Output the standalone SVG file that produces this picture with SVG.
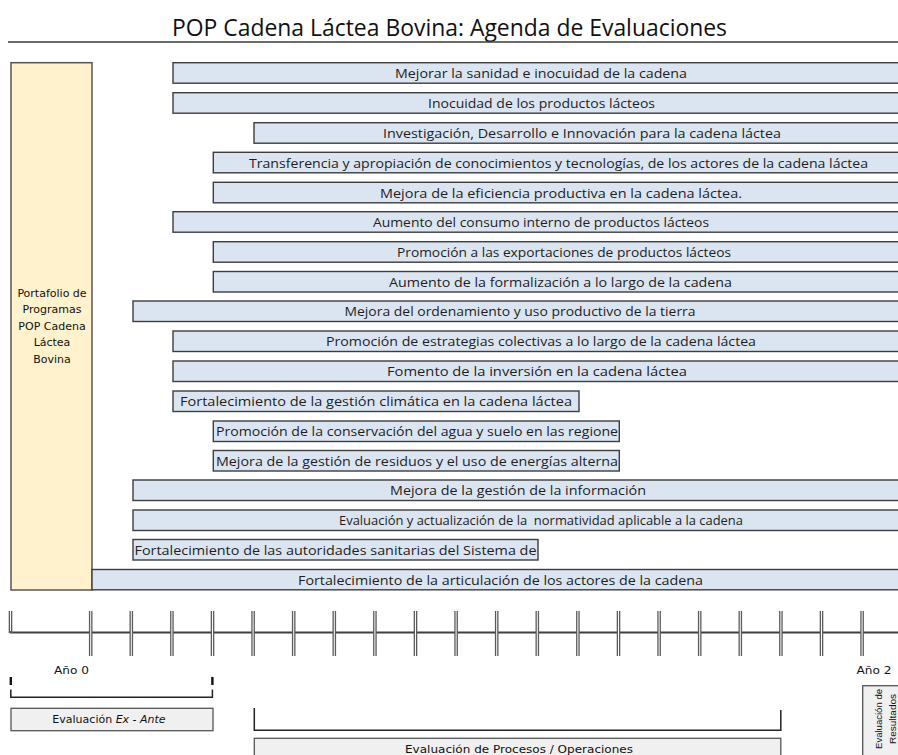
<svg xmlns="http://www.w3.org/2000/svg" width="898" height="755" viewBox="0 0 898 755">
<defs>
<style>
.bar{fill:#dbe5f1;stroke:#3d3d3d;stroke-width:1.4}
.bt{font-family:"Open Sans","Noto Sans","Liberation Sans",sans-serif;font-size:13.5px;fill:#1e1e1e}
.c{text-anchor:middle}
.sm{font-family:"DejaVu Sans","Liberation Sans",sans-serif;font-size:11px;fill:#111}
.ev{fill:#f0f0f0;stroke:#555;stroke-width:1.3}
.brk{fill:none;stroke:#222;stroke-width:1.5}
.rot{font-family:"Liberation Sans",Arial,sans-serif;font-size:9.5px;fill:#111;text-anchor:middle}
</style>
<g id="tick"><line x1="0" y1="611" x2="0" y2="656" stroke="#5a5a5a" stroke-width="3.6"/><line x1="0" y1="611" x2="0" y2="656" stroke="#ffffff" stroke-width="1"/></g>
</defs>
<rect width="898" height="755" fill="#ffffff"/>

<g id="title">
<text x="449.5" y="36" class="c" font-family="'Open Sans','Noto Sans','Liberation Sans',sans-serif" font-size="24" fill="#111" textLength="555" lengthAdjust="spacingAndGlyphs">POP Cadena Láctea Bovina: Agenda de Evaluaciones</text>
<line x1="8" y1="42" x2="898" y2="42" stroke="#3a3a3a" stroke-width="1.6"/>
</g>

<g id="portafolio">
<rect x="11" y="62.7" width="81" height="527.3" fill="#fff2cc" stroke="#555" stroke-width="1.5"/>
<text class="sm c" x="52" y="296.5">Portafolio de</text>
<text class="sm c" x="52" y="313">Programas</text>
<text class="sm c" x="52" y="329.5">POP Cadena</text>
<text class="sm c" x="52" y="346">Láctea</text>
<text class="sm c" x="52" y="362.5">Bovina</text>
</g>

<g id="b1"><rect class="bar" x="173" y="62.7" width="740" height="20.5"/><text class="bt c" x="541" y="78" textLength="292" lengthAdjust="spacingAndGlyphs">Mejorar la sanidad e inocuidad de la cadena</text></g>
<g id="b2"><rect class="bar" x="173" y="92.7" width="740" height="20.5"/><text class="bt c" x="541.5" y="108" textLength="227" lengthAdjust="spacingAndGlyphs">Inocuidad de los productos lácteos</text></g>
<g id="b3"><rect class="bar" x="254" y="122.7" width="660" height="20.5"/><text class="bt c" x="582" y="138" textLength="398" lengthAdjust="spacingAndGlyphs">Investigación, Desarrollo e Innovación para la cadena láctea</text></g>
<g id="b4"><rect class="bar" x="213.3" y="152.3" width="700" height="20.5"/><text class="bt c" x="558.5" y="167.6" textLength="619" lengthAdjust="spacingAndGlyphs">Transferencia y apropiación de conocimientos y tecnologías, de los actores de la cadena láctea</text></g>
<g id="b5"><rect class="bar" x="213.3" y="182.3" width="700" height="20.5"/><text class="bt c" x="561" y="197.6" textLength="362" lengthAdjust="spacingAndGlyphs">Mejora de la eficiencia productiva en la cadena láctea.</text></g>
<g id="b6"><rect class="bar" x="173" y="211.7" width="740" height="20.5"/><text class="bt c" x="541" y="227" textLength="336" lengthAdjust="spacingAndGlyphs">Aumento del consumo interno de productos lácteos</text></g>
<g id="b7"><rect class="bar" x="213.3" y="241.7" width="700" height="20.5"/><text class="bt c" x="564" y="257" textLength="334" lengthAdjust="spacingAndGlyphs">Promoción a las exportaciones de productos lácteos</text></g>
<g id="b8"><rect class="bar" x="213.3" y="271.5" width="700" height="20.5"/><text class="bt c" x="560.5" y="286.8" textLength="343" lengthAdjust="spacingAndGlyphs">Aumento de la formalización a lo largo de la cadena</text></g>
<g id="b9"><rect class="bar" x="133" y="301" width="780" height="20.5"/><text class="bt c" x="520" y="316.3" textLength="351" lengthAdjust="spacingAndGlyphs">Mejora del ordenamiento y uso productivo de la tierra</text></g>
<g id="b10"><rect class="bar" x="173" y="331" width="740" height="20.5"/><text class="bt c" x="541" y="346.3" textLength="430" lengthAdjust="spacingAndGlyphs">Promoción de estrategias colectivas a lo largo de la cadena láctea</text></g>
<g id="b11"><rect class="bar" x="173" y="361" width="740" height="20.5"/><text class="bt c" x="537" y="376.3" textLength="300" lengthAdjust="spacingAndGlyphs">Fomento de la inversión en la cadena láctea</text></g>
<g id="b12"><rect class="bar" x="173" y="391" width="406" height="20.5"/><text class="bt" x="180" y="406.3" textLength="392" lengthAdjust="spacingAndGlyphs">Fortalecimiento de la gestión climática en la cadena láctea</text></g>
<g id="b13"><rect class="bar" x="213.3" y="421" width="406" height="20.5"/><text class="bt" x="216" y="436.3" textLength="402" lengthAdjust="spacingAndGlyphs">Promoción de la conservación del agua y suelo en las regione</text></g>
<g id="b14"><rect class="bar" x="213.3" y="450.5" width="406" height="20.5"/><text class="bt" x="216" y="465.8" textLength="402" lengthAdjust="spacingAndGlyphs">Mejora de la gestión de residuos y el uso de energías alterna</text></g>
<g id="b15"><rect class="bar" x="133" y="480" width="780" height="20.5"/><text class="bt c" x="518" y="495.3" textLength="256" lengthAdjust="spacingAndGlyphs">Mejora de la gestión de la información</text></g>
<g id="b16"><rect class="bar" x="133" y="510" width="780" height="20.5"/><text class="bt c" x="541" y="525.3" textLength="404" lengthAdjust="spacingAndGlyphs" style="white-space:pre">Evaluación y actualización de la  normatividad aplicable a la cadena</text></g>
<g id="b17"><rect class="bar" x="133" y="539.5" width="405" height="20.5"/><text class="bt" x="134.5" y="554.8" textLength="402" lengthAdjust="spacingAndGlyphs">Fortalecimiento de las autoridades sanitarias del Sistema de</text></g>
<g id="b18"><rect class="bar" x="92" y="569.5" width="820" height="20.3"/><text class="bt c" x="500.5" y="584.6" textLength="405" lengthAdjust="spacingAndGlyphs">Fortalecimiento de la articulación de los actores de la cadena</text></g>

<g id="timeline">
<line x1="10" y1="632.5" x2="898" y2="632.5" stroke="#404040" stroke-width="2"/>
<line x1="10.5" y1="611" x2="10.5" y2="633" stroke="#5a5a5a" stroke-width="3.6"/>
<line x1="10.5" y1="611" x2="10.5" y2="631" stroke="#ffffff" stroke-width="1"/>
<use href="#tick" x="90.7"/><use href="#tick" x="131.3"/><use href="#tick" x="171.9"/><use href="#tick" x="212.5"/>
<use href="#tick" x="253.1"/><use href="#tick" x="293.7"/><use href="#tick" x="334.3"/><use href="#tick" x="374.9"/>
<use href="#tick" x="415.5"/><use href="#tick" x="456.1"/><use href="#tick" x="496.7"/><use href="#tick" x="537.3"/>
<use href="#tick" x="577.9"/><use href="#tick" x="618.5"/><use href="#tick" x="659.1"/><use href="#tick" x="699.7"/>
<use href="#tick" x="740.3"/><use href="#tick" x="780.9"/><use href="#tick" x="821.5"/><use href="#tick" x="862.1"/>
<text class="sm" x="54" y="673.5" font-size="12" textLength="35" lengthAdjust="spacingAndGlyphs">Año 0</text>
<text class="sm" x="856.5" y="673.5" font-size="12" textLength="35" lengthAdjust="spacingAndGlyphs">Año 2</text>
</g>

<g id="connectors">
<line x1="10.8" y1="677" x2="10.8" y2="685" stroke="#111" stroke-width="2.4"/>
<line x1="212.4" y1="677" x2="212.4" y2="685" stroke="#111" stroke-width="2.4"/>
<polyline class="brk" points="10.8,689.5 10.8,697.3 212.4,697.3 212.4,689.5"/>
<polyline class="brk" points="254.3,708 254.3,730.2 780.8,730.2 780.8,710" stroke-width="1.3"/>
</g>

<g id="exante">
<rect class="ev" x="11" y="708.3" width="202" height="22.4"/>
<text class="sm c" x="109" y="723.3">Evaluación <tspan font-style="italic">Ex - Ante</tspan></text>
</g>

<g id="procesos">
<rect class="ev" x="254.3" y="738.3" width="526.5" height="30"/>
<text class="sm c" x="519" y="753.3" textLength="228" lengthAdjust="spacingAndGlyphs">Evaluación de Procesos / Operaciones</text>
</g>

<g id="resultados">
<rect class="ev" x="862.7" y="685.7" width="45" height="80"/>
<text class="rot" transform="translate(881.5,719) rotate(-90)" textLength="60" lengthAdjust="spacingAndGlyphs">Evaluación de</text>
<text class="rot" transform="translate(895.5,719) rotate(-90)" textLength="50" lengthAdjust="spacingAndGlyphs">Resultados</text>
</g>
</svg>
